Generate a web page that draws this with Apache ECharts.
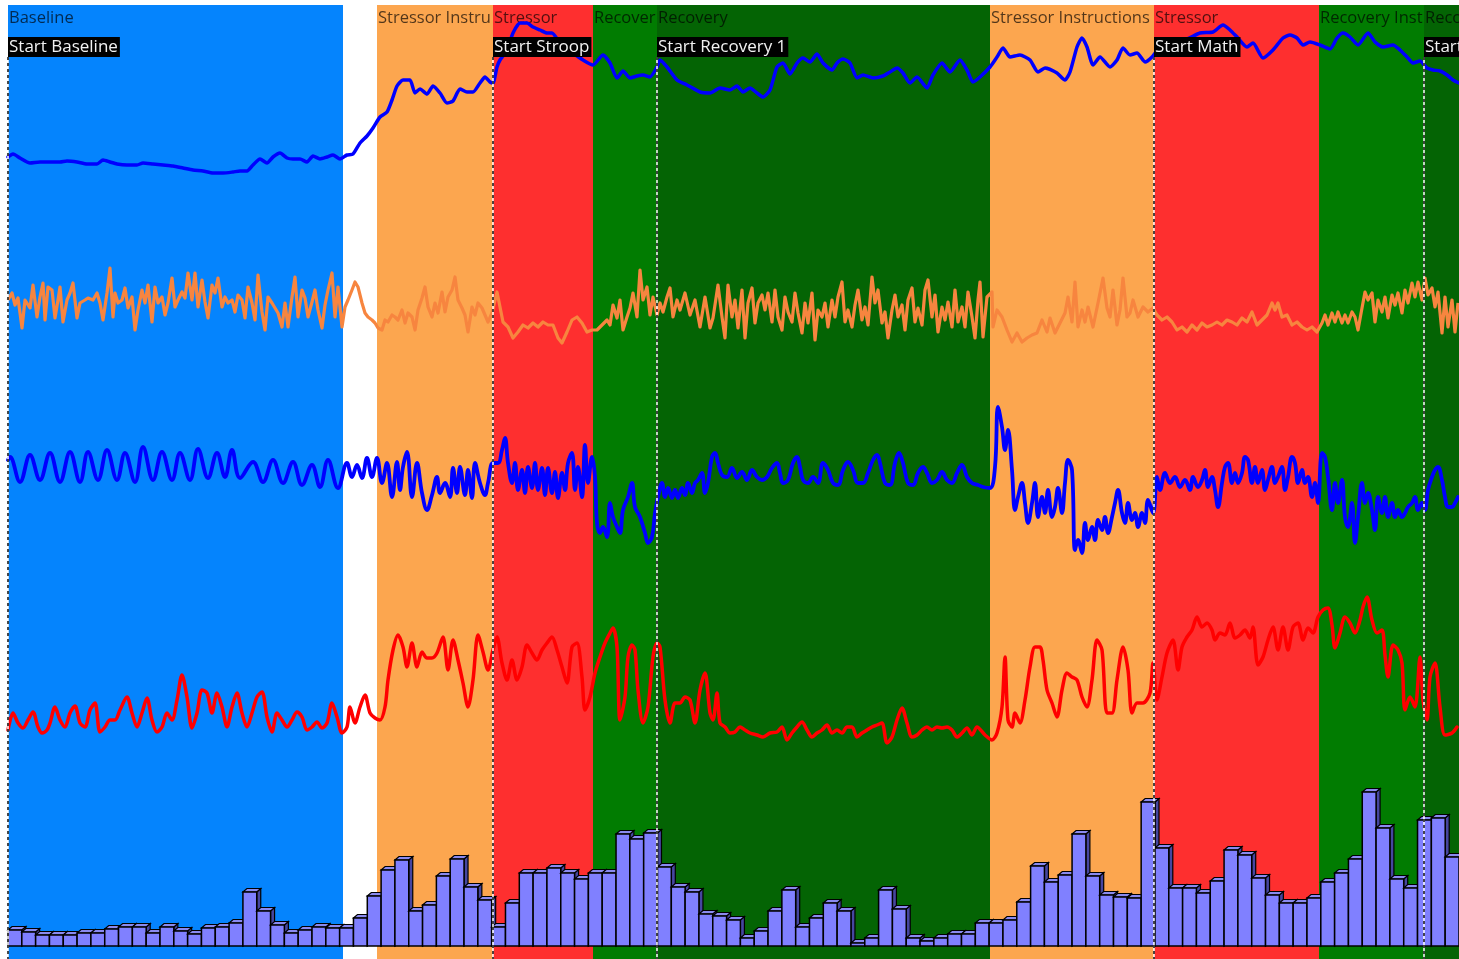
<!DOCTYPE html>
<html>
<head>
<meta charset="utf-8">
<script src="https://cdn.jsdelivr.net/npm/echarts@6/dist/echarts.min.js"></script>
<style>
  html, body { margin: 0; padding: 0; background: #fff; }
  #main { width: 1459px; height: 959px; }
</style>
</head>
<body>
<div id="main"></div>
<script>
// session timeline, seconds from "Start Baseline"
const tMax = 1451;

// protocol phases
const phaseNames = ['Baseline', 'Stressor Instructions', 'Stressor', 'Recovery Instructions', 'Recovery',
  'Stressor Instructions', 'Stressor', 'Recovery Instructions', 'Recovery'];
const phaseStart = [0, 369, 485, 585, 649, 982, 1146, 1311, 1416];
const phaseEnd = [335, 485, 585, 649, 982, 1146, 1311, 1416, 1451];
const phaseColors = ['#0584fd', '#fca64f', '#fe2f2f', '#017c01', '#046404',
  '#fca64f', '#fe2f2f', '#017c01', '#046404'];

// event markers
const eventNames = ['Start Baseline', 'Start Stroop', 'Start Recovery 1', 'Start Math', 'Start Recovery 2'];
const eventTimes = [0, 485, 649, 1146, 1416];

// skin conductance (top trace)
const eda = [[0,43],[5,46],[12,42],[22,37],[32,38],[42,38],[52,38],[59,39],[69,38],[79,36],[89,36],[95,40],[102,38],[109,36],[119,35],[129,35],[135,37],[145,36],[155,35],[165,34],[175,32],[185,30],[195,29],[205,27],[215,27],[225,28],[232,29],[239,29],[245,35],[252,41],[259,37],[265,43],[272,47],[279,42],[285,41],[292,41],[299,38],[305,44],[312,41],[319,43],[325,45],[332,41],[339,45],[345,46],[352,57],[359,64],[365,72],[372,83],[379,88],[384,100],[389,114],[395,120],[402,120],[407,107],[412,111],[419,106],[425,114],[432,107],[439,97],[445,99],[452,111],[459,108],[465,108],[472,117],[477,123],[482,118],[485,117],[489,133],[492,140],[499,150],[505,167],[512,177],[519,177],[525,173],[532,170],[539,167],[544,167],[552,157],[565,147],[575,140],[585,135],[595,145],[602,137],[609,122],[615,129],[622,122],[629,124],[635,125],[642,123],[649,133],[652,140],[659,133],[669,120],[679,115],[692,108],[702,107],[712,112],[722,110],[729,114],[735,108],[742,112],[749,107],[755,103],[762,110],[769,133],[775,137],[782,126],[789,137],[795,142],[802,138],[809,146],[815,137],[824,130],[829,137],[835,141],[842,137],[849,122],[855,125],[865,122],[875,124],[882,128],[889,132],[895,127],[902,117],[909,123],[919,112],[925,125],[934,137],[942,128],[952,140],[959,130],[965,118],[972,123],[982,133],[989,143],[995,152],[1002,143],[1012,145],[1022,140],[1030,128],[1037,132],[1049,127],[1057,120],[1062,128],[1069,153],[1074,162],[1079,153],[1085,135],[1092,143],[1102,133],[1109,140],[1115,152],[1122,145],[1129,147],[1137,138],[1144,143],[1152,153],[1165,158],[1179,161],[1192,167],[1205,168],[1215,175],[1222,170],[1229,163],[1239,153],[1245,157],[1255,142],[1265,150],[1275,162],[1282,165],[1289,162],[1295,155],[1302,158],[1312,155],[1322,151],[1329,162],[1335,167],[1342,163],[1350,155],[1360,167],[1367,158],[1375,153],[1385,155],[1392,150],[1399,143],[1405,137],[1412,139],[1419,132],[1425,130],[1432,129],[1439,125],[1445,120],[1451,117]];

// pulse amplitude (orange trace)
const ppg = [[0,100],[4,107],[7,95],[10,102],[14,72],[17,100],[22,92],[25,115],[29,83],[32,103],[35,117],[37,80],[40,113],[44,110],[47,82],[50,100],[52,113],[55,78],[59,100],[62,107],[65,117],[69,82],[72,97],[77,100],[80,102],[85,100],[89,107],[92,97],[95,80],[99,107],[102,132],[105,83],[107,107],[110,97],[114,100],[117,112],[120,92],[124,103],[127,70],[130,90],[134,110],[137,97],[140,115],[144,78],[147,113],[150,97],[154,103],[157,85],[160,97],[164,122],[167,93],[170,100],[174,108],[177,102],[180,127],[184,100],[187,127],[190,93],[194,120],[197,98],[200,82],[204,115],[207,107],[210,122],[214,93],[217,103],[220,97],[224,100],[227,88],[230,105],[234,100],[237,82],[240,113],[244,97],[247,80],[250,125],[254,88],[257,70],[260,103],[264,97],[267,92],[270,87],[274,73],[277,97],[280,73],[284,103],[287,123],[290,83],[294,110],[297,102],[300,83],[304,98],[307,110],[310,90],[314,72],[317,95],[320,110],[324,127],[327,83],[330,113],[334,73],[337,93],[340,100],[344,110],[347,118],[350,113],[354,97],[357,87],[360,83],[364,80],[367,77],[370,72],[374,70],[377,80],[380,78],[384,85],[387,83],[390,80],[394,90],[397,77],[400,87],[404,83],[407,70],[410,90],[414,102],[417,113],[420,93],[424,83],[427,97],[430,87],[434,108],[437,88],[440,103],[444,110],[447,123],[450,100],[454,92],[457,85],[460,68],[464,93],[467,85],[470,97],[474,92],[477,85],[480,78],[484,87],[489,108],[492,93],[495,78],[500,73],[505,62],[510,68],[515,75],[520,72],[525,77],[530,73],[535,78],[540,75],[545,75],[550,62],[554,57],[559,68],[564,80],[569,83],[574,77],[579,68],[584,70],[589,70],[594,75],[599,80],[602,75],[605,95],[609,82],[612,100],[615,70],[619,83],[622,92],[625,107],[629,83],[632,130],[635,100],[639,113],[642,85],[645,103],[649,85],[652,97],[655,88],[659,103],[662,112],[665,83],[669,100],[672,90],[677,107],[682,85],[687,100],[692,73],[697,103],[702,72],[705,82],[710,115],[714,83],[717,62],[720,115],[724,83],[727,100],[730,72],[734,110],[737,62],[740,97],[744,112],[747,77],[750,97],[754,105],[757,90],[760,107],[764,78],[767,110],[770,83],[774,70],[777,103],[780,88],[784,78],[787,107],[790,87],[794,67],[797,97],[800,77],[804,107],[807,60],[810,90],[814,83],[817,97],[820,73],[824,100],[827,83],[830,103],[834,118],[837,78],[840,90],[844,73],[847,95],[850,110],[854,80],[857,93],[860,75],[864,123],[867,97],[870,110],[874,77],[877,88],[880,62],[884,90],[887,105],[890,83],[894,95],[897,70],[900,100],[904,112],[907,78],[910,92],[914,75],[917,110],[920,120],[924,83],[927,105],[930,68],[934,93],[937,80],[940,98],[944,73],[947,110],[950,78],[954,93],[957,73],[960,108],[964,83],[967,62],[970,100],[972,118],[975,63],[979,103],[984,108],[985,73],[989,90],[994,83],[999,70],[1004,58],[1009,67],[1014,58],[1019,62],[1024,65],[1029,67],[1034,80],[1039,68],[1042,82],[1047,67],[1052,77],[1057,87],[1060,103],[1064,78],[1067,118],[1070,73],[1074,90],[1077,78],[1080,93],[1085,73],[1090,97],[1095,122],[1099,92],[1102,83],[1105,110],[1109,75],[1112,90],[1115,122],[1119,83],[1122,87],[1125,100],[1130,83],[1135,93],[1140,88],[1145,92],[1149,85],[1154,80],[1159,83],[1164,78],[1169,70],[1174,73],[1179,68],[1184,75],[1189,70],[1194,77],[1199,73],[1204,75],[1209,78],[1214,75],[1219,80],[1224,78],[1229,75],[1234,82],[1239,78],[1244,88],[1249,75],[1254,80],[1259,85],[1264,97],[1267,90],[1270,97],[1274,83],[1279,85],[1284,75],[1289,78],[1294,73],[1299,70],[1304,73],[1309,68],[1314,77],[1317,85],[1320,75],[1324,87],[1327,78],[1330,88],[1334,77],[1337,85],[1340,77],[1344,88],[1347,83],[1350,70],[1354,92],[1357,108],[1360,100],[1364,107],[1367,78],[1370,100],[1374,88],[1377,103],[1380,82],[1384,105],[1387,95],[1390,107],[1394,87],[1397,110],[1400,97],[1404,117],[1407,103],[1410,118],[1414,100],[1417,122],[1420,105],[1424,112],[1427,93],[1430,108],[1434,67],[1437,103],[1440,73],[1444,100],[1447,68],[1450,97]];

// respiration (second blue trace)
const resp = [[0,140],[2,143],[12,118],[22,145],[32,120],[42,147],[52,118],[62,148],[72,118],[80,148],[90,120],[99,150],[109,120],[117,147],[127,118],[135,153],[145,120],[154,148],[164,120],[172,147],[182,120],[190,151],[200,122],[209,147],[217,123],[224,150],[232,122],[245,138],[255,118],[265,140],[275,117],[285,138],[294,115],[304,135],[312,113],[320,140],[330,112],[339,137],[344,123],[349,135],[354,122],[359,142],[364,123],[369,142],[374,117],[379,137],[384,103],[389,138],[392,110],[395,133],[399,148],[404,103],[409,137],[414,107],[419,90],[424,105],[429,123],[432,107],[437,117],[442,103],[445,132],[449,107],[452,133],[457,105],[460,130],[464,102],[467,137],[472,117],[477,105],[480,117],[485,137],[490,137],[494,150],[497,162],[500,137],[504,117],[507,137],[510,110],[514,130],[517,107],[520,133],[524,112],[527,137],[530,110],[534,132],[537,105],[540,132],[544,107],[547,128],[550,102],[554,127],[557,110],[560,137],[564,147],[567,110],[570,133],[574,103],[577,155],[580,117],[584,143],[587,123],[589,77],[592,67],[595,73],[599,63],[602,97],[605,83],[609,73],[612,67],[615,90],[620,103],[624,117],[627,93],[632,83],[637,67],[640,57],[644,63],[647,87],[650,103],[654,117],[657,103],[660,112],[664,102],[667,110],[670,102],[674,112],[677,105],[680,117],[684,107],[687,117],[690,120],[694,127],[697,107],[700,117],[704,143],[707,147],[710,137],[714,125],[719,123],[724,132],[729,122],[734,128],[739,120],[744,130],[749,123],[754,120],[759,123],[764,132],[769,137],[772,127],[775,117],[780,120],[785,137],[789,143],[792,133],[795,120],[800,117],[805,123],[810,117],[815,137],[820,130],[825,117],[830,115],[835,130],[840,138],[845,130],[850,117],[855,117],[860,127],[865,140],[869,145],[872,137],[877,117],[882,115],[887,137],[891,147],[895,137],[900,117],[905,115],[910,127],[915,133],[919,127],[924,117],[929,120],[934,128],[939,120],[944,117],[949,127],[954,135],[959,123],[964,117],[970,115],[975,113],[982,112],[987,133],[990,193],[994,173],[997,150],[1000,170],[1004,130],[1007,90],[1010,103],[1014,117],[1017,97],[1020,77],[1024,97],[1027,117],[1030,83],[1034,103],[1037,87],[1040,110],[1044,83],[1047,93],[1050,112],[1054,87],[1057,117],[1060,140],[1064,130],[1067,50],[1070,60],[1074,47],[1077,77],[1080,60],[1084,73],[1087,60],[1090,80],[1094,70],[1097,83],[1100,67],[1104,83],[1107,97],[1110,110],[1114,87],[1117,77],[1120,97],[1124,80],[1127,87],[1130,73],[1134,87],[1137,77],[1140,100],[1145,87],[1149,123],[1152,110],[1157,127],[1162,117],[1167,123],[1172,113],[1177,120],[1182,110],[1185,123],[1190,113],[1194,120],[1197,130],[1200,113],[1204,123],[1207,110],[1210,93],[1214,117],[1217,133],[1220,137],[1224,117],[1227,127],[1230,117],[1234,127],[1237,143],[1240,140],[1244,117],[1247,133],[1250,117],[1254,130],[1257,110],[1260,120],[1264,133],[1267,117],[1270,123],[1274,133],[1277,110],[1280,123],[1284,143],[1287,137],[1290,117],[1294,130],[1297,117],[1300,123],[1304,103],[1307,117],[1310,97],[1314,147],[1317,143],[1320,123],[1324,90],[1327,117],[1330,97],[1334,120],[1337,83],[1340,73],[1344,97],[1347,57],[1350,83],[1354,117],[1357,97],[1360,107],[1364,90],[1367,70],[1370,103],[1374,87],[1377,103],[1380,83],[1384,97],[1387,83],[1390,90],[1394,83],[1397,87],[1400,93],[1404,97],[1407,103],[1410,90],[1414,97],[1417,90],[1420,110],[1424,123],[1427,130],[1430,133],[1434,120],[1437,103],[1440,93],[1444,93],[1447,97],[1450,103]];

// heart rate (red trace)
const hr = [[0,70],[5,87],[10,77],[15,72],[20,80],[25,88],[30,73],[34,67],[39,70],[42,77],[47,93],[52,80],[57,73],[62,87],[67,94],[72,77],[77,73],[82,90],[87,97],[92,68],[97,73],[102,80],[107,80],[112,90],[119,103],[124,87],[129,73],[134,87],[139,102],[144,80],[149,68],[154,73],[159,87],[164,80],[169,100],[174,125],[179,103],[184,72],[189,87],[194,110],[199,107],[204,87],[209,107],[214,93],[219,73],[224,93],[229,107],[234,87],[239,73],[244,87],[249,103],[254,108],[259,83],[264,68],[269,87],[274,80],[279,73],[284,80],[289,88],[294,83],[299,70],[304,73],[309,78],[314,72],[319,77],[324,97],[329,83],[334,67],[339,73],[342,93],[347,77],[352,93],[357,105],[362,87],[367,82],[372,80],[377,93],[380,120],[385,150],[390,165],[395,153],[399,133],[404,157],[409,133],[414,148],[419,142],[424,142],[429,147],[435,163],[440,130],[445,160],[450,140],[455,117],[460,93],[465,120],[470,165],[475,148],[480,130],[485,150],[489,163],[494,137],[499,120],[504,140],[509,120],[514,133],[519,155],[524,147],[529,140],[534,150],[539,157],[544,163],[549,150],[554,133],[559,117],[564,153],[569,157],[574,123],[577,90],[582,103],[587,127],[592,143],[597,157],[602,167],[605,172],[609,153],[612,80],[617,103],[620,143],[624,155],[627,150],[630,110],[635,77],[640,93],[645,143],[649,157],[652,153],[657,100],[662,77],[667,97],[672,97],[677,103],[682,100],[687,77],[692,110],[697,127],[702,87],[705,80],[709,107],[712,77],[717,73],[722,67],[727,68],[732,73],[737,70],[742,67],[749,65],[755,63],[762,67],[769,68],[774,73],[779,60],[784,67],[789,73],[794,78],[799,70],[804,63],[809,67],[814,70],[819,75],[824,67],[829,70],[834,67],[839,73],[844,73],[849,63],[854,67],[859,70],[864,73],[869,75],[874,77],[879,57],[884,63],[889,80],[894,92],[899,77],[904,63],[909,65],[914,70],[919,73],[924,70],[929,73],[934,72],[939,73],[944,70],[949,63],[954,67],[959,72],[964,65],[969,73],[977,65],[984,60],[989,67],[994,93],[997,143],[1000,80],[1004,73],[1007,87],[1012,77],[1017,100],[1022,133],[1027,153],[1032,153],[1035,140],[1039,110],[1044,97],[1049,83],[1054,110],[1059,127],[1064,123],[1069,120],[1074,103],[1079,93],[1084,120],[1089,160],[1094,150],[1099,87],[1104,87],[1109,120],[1115,153],[1120,130],[1124,87],[1129,97],[1135,97],[1142,107],[1145,137],[1149,100],[1154,123],[1159,147],[1165,160],[1170,130],[1174,153],[1179,163],[1184,170],[1189,183],[1194,173],[1199,177],[1204,170],[1207,160],[1212,167],[1217,165],[1222,177],[1227,162],[1232,165],[1237,170],[1242,162],[1245,173],[1250,135],[1255,143],[1260,160],[1265,173],[1270,150],[1275,173],[1280,150],[1285,173],[1290,177],[1295,160],[1300,172],[1305,167],[1310,183],[1315,190],[1320,192],[1324,175],[1327,152],[1332,167],[1337,183],[1342,177],[1347,167],[1352,180],[1355,193],[1359,203],[1364,180],[1369,167],[1374,170],[1377,145],[1380,123],[1385,155],[1390,150],[1394,137],[1397,90],[1402,103],[1407,93],[1412,143],[1415,100],[1419,80],[1422,123],[1427,137],[1432,93],[1437,65],[1444,67],[1449,73]];

// per-epoch scores (bottom bars)
const epochScores = [16,14,11,11,11,13,13,17,19,19,13,19,15,12,18,19,23,54,35,21,13,16,19,18,18,28,50,76,86,35,
  41,70,87,59,46,19,43,73,73,78,73,67,73,73,112,107,113,79,59,54,32,30,26,8,15,35,56,19,28,43,
  35,3,8,56,37,8,5,8,12,12,23,23,26,44,80,64,71,112,70,51,49,48,144,98,58,58,53,65,96,91,
  68,51,43,43,48,64,73,87,154,118,67,58,126,128,89];
const epochLabels = epochScores.map((_, i) => String(i + 1));

const chart = echarts.init(document.getElementById('main'));
const gridW = chart.getWidth() - 8;
const unit = gridW / tMax;
const font = '"Open Sans", "DejaVu Sans", sans-serif';

// each trace gets its own hidden axis so the four channels stack down the page
function channelAxis(ref) {
    return { type: 'value', gridIndex: 0, show: false, min: ref - 959, max: ref - 5 };
}

function renderBar3d(params, api) {
    const top = api.coord([api.value(0), api.value(1)]);
    const base = api.coord([api.value(0), 0]);
    const w = api.size([1, 0])[0];
    const l = top[0] - w / 2, r = top[0] + w / 2;
    const d = 4, dy = 3.5;
    return {
        type: 'group',
        children: [
            { type: 'polygon', shape: { points: [[r, top[1]], [r + d, top[1] - dy], [r + d, base[1] - dy], [r, base[1]]] },
              style: { fill: '#4646a0', stroke: '#000', lineWidth: 1.2 } },
            { type: 'polygon', shape: { points: [[l, top[1]], [l + d, top[1] - dy], [r + d, top[1] - dy], [r, top[1]]] },
              style: { fill: '#8a8af0', stroke: '#000', lineWidth: 1.2 } },
            { type: 'rect', shape: { x: l, y: top[1], width: w, height: base[1] - top[1] },
              style: { fill: '#8080ff', stroke: '#000', lineWidth: 1.5 } }
        ]
    };
}

function renderEvent(params, api) {
    const x = api.coord([api.value(0), 0])[0];
    const cs = params.coordSys;
    const y0 = cs.y + 52;
    const y1 = cs.y + cs.height;
    return {
        type: 'group',
        children: [
            { type: 'line', shape: { x1: x, y1: y0, x2: x, y2: y1 }, style: { stroke: '#fff', lineWidth: 1.5 } },
            { type: 'line', shape: { x1: x, y1: y0, x2: x, y2: y1 }, style: { stroke: '#111', lineWidth: 1.5, lineDash: [3, 3] } },
            { type: 'text', x: x, y: cs.y + 32,
              style: { text: eventNames[params.dataIndex], fill: '#f2f2f2', font: '17px ' + font,
                       backgroundColor: '#000', padding: [0, 2, 0, 1], lineHeight: 20, verticalAlign: 'top' } }
        ]
    };
}

const phaseAreas = phaseNames.map((name, i) => [
    { xAxis: phaseStart[i], name: name, itemStyle: { color: phaseColors[i] },
      label: { width: (phaseEnd[i] - phaseStart[i]) * unit + 4 } },
    { xAxis: phaseEnd[i] }
]);

const option = {
    animation: false,
    backgroundColor: '#fff',
    grid: [
        { left: 8, right: 0, top: 5, bottom: 0 },
        { left: 8, right: 0, top: 5, bottom: 13 }
    ],
    xAxis: [
        { type: 'value', gridIndex: 0, min: 0, max: tMax, show: false },
        { type: 'category', gridIndex: 1, data: epochLabels, boundaryGap: true, show: false }
    ],
    yAxis: [
        channelAxis(200),
        channelAxis(400),
        channelAxis(600),
        channelAxis(800),
        { type: 'value', gridIndex: 1, min: 0, max: 941, show: false }
    ],
    series: [
        {
            name: 'phases', type: 'line', xAxisIndex: 0, yAxisIndex: 0, data: [], z: 0,
            markArea: {
                silent: true,
                label: {
                    show: true, position: 'insideTopLeft', distance: 0, padding: [5, 0, 0, 1],
                    color: 'rgba(0,0,0,0.68)', fontSize: 16.5, fontFamily: font,
                    overflow: 'truncate', ellipsis: ''
                },
                data: phaseAreas
            }
        },
        {
            name: 'epochs', type: 'custom', xAxisIndex: 1, yAxisIndex: 4, z: 3,
            renderItem: renderBar3d,
            encode: { x: 0, y: 1 },
            data: epochScores.map((v, i) => [i, v])
        },
        {
            name: 'EDA', type: 'line', xAxisIndex: 0, yAxisIndex: 0, data: eda, z: 4, smooth: 0.2,
            showSymbol: false, lineStyle: { color: '#0000ff', width: 3.5, cap: 'round', join: 'round' }
        },
        {
            name: 'PPG', type: 'line', xAxisIndex: 0, yAxisIndex: 1, data: ppg, z: 4,
            showSymbol: false, lineStyle: { color: '#f7853f', width: 3.2, join: 'round' }
        },
        {
            name: 'Resp', type: 'line', xAxisIndex: 0, yAxisIndex: 2, data: resp, z: 4, smooth: 0.4,
            showSymbol: false, lineStyle: { color: '#0000ff', width: 3.8, cap: 'round', join: 'round' }
        },
        {
            name: 'HR', type: 'line', xAxisIndex: 0, yAxisIndex: 3, data: hr, z: 4, smooth: 0.3,
            showSymbol: false, lineStyle: { color: '#ff0000', width: 3.5, cap: 'round', join: 'round' }
        },
        {
            name: 'events', type: 'custom', xAxisIndex: 0, yAxisIndex: 0, z: 10, clip: false,
            renderItem: renderEvent,
            encode: { x: 0, y: 1 },
            data: eventTimes.map(t => [t, 0])
        }
    ]
};
chart.setOption(option);
</script>
</body>
</html>
